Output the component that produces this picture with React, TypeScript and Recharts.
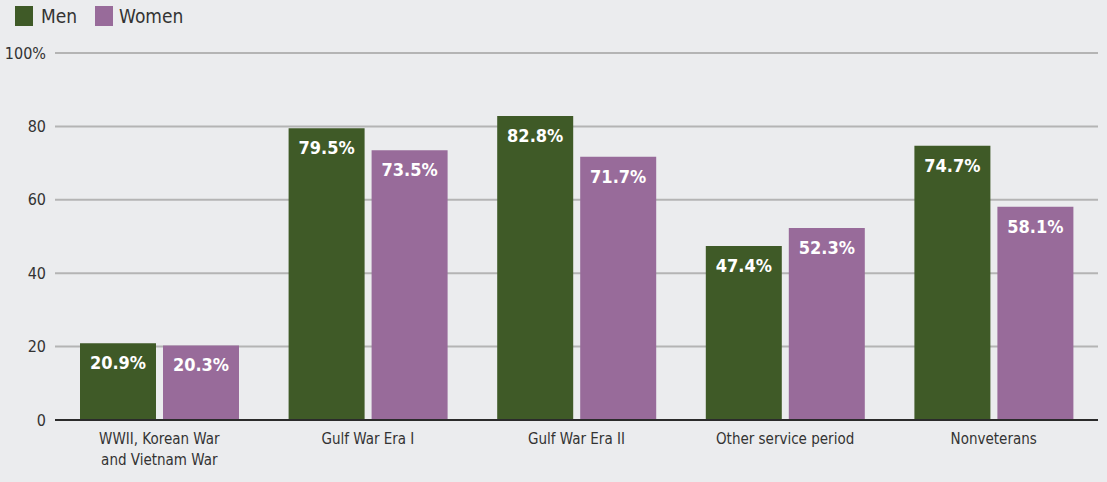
import React from "react";
import {
    BarChart,
    Bar,
    XAxis,
    YAxis,
    CartesianGrid,
    LabelList
} from "recharts";

const CATEGORIES = [
    "WWII, Korean War\nand Vietnam War",
    "Gulf War Era I",
    "Gulf War Era II",
    "Other service period",
    "Nonveterans"
];
const MEN = [20.9, 79.5, 82.8, 47.4, 74.7];
const WOMEN = [20.3, 73.5, 71.7, 52.3, 58.1];
const Y_TICKS = [0, 20, 40, 60, 80, 100];

const GREEN = "#3f5a27";
const PURPLE = "#986b9a";
const FONT = "'Liberation Sans Narrow', 'DejaVu Sans Condensed', 'Roboto', sans-serif";

const data = CATEGORIES.map((c, i) => ({ category: c, men: MEN[i], women: WOMEN[i] }));

const CategoryTick = ({ x, y, payload }: any) => {
    const lines = String(payload.value).split("\n");
    return (
        <text x={x} y={y} textAnchor="middle" fill="#333" fontSize={15} fontFamily={FONT}>
            {lines.map((l, i) => (
                <tspan key={i} x={x} dy={i === 0 ? 16 : 21}>{l}</tspan>
            ))}
        </text>
    );
};

const LegendBox = () => (
    <div
        style={{
            position: "absolute",
            top: 6,
            left: 0,
            display: "flex",
            alignItems: "center",
            fontFamily: FONT,
            fontSize: 19,
            color: "#333",
            lineHeight: "20px"
        }}
    >
        <div style={{ width: 18, height: 20, background: GREEN, marginLeft: 15, marginRight: 8 }} />
        <span>Men</span>
        <div style={{ width: 18, height: 20, background: PURPLE, marginLeft: 18, marginRight: 6 }} />
        <span>Women</span>
    </div>
);

const pct = (v: number) => `${v}%`;
const labelStyle = { fill: "#fff", fontSize: 18, fontWeight: 700, fontFamily: FONT };

export default function App() {
    return (
        <div style={{ position: "absolute", left: 0, top: 0, width: 1107, height: 482, background: "#ebecee" }}>
            <LegendBox />
            <BarChart
                width={1107}
                height={482}
                data={data}
                margin={{ top: 53, right: 9, left: 0, bottom: 0 }}
                barGap={7}
                barSize={76}
            >
                <CartesianGrid vertical={false} stroke="#b4b4b4" strokeWidth={2} />
                <XAxis
                    dataKey="category"
                    interval={0}
                    tickLine={false}
                    axisLine={{ stroke: "#2b2b2b", strokeWidth: 2 }}
                    tick={<CategoryTick />}
                    height={62}
                />
                <YAxis
                    domain={[0, 100]}
                    ticks={Y_TICKS}
                    axisLine={false}
                    tickLine={false}
                    tickSize={0}
                    tickMargin={9}
                    width={55}
                    tickFormatter={(v: number) => (v === 100 ? "100%" : String(v))}
                    tick={{ fill: "#333", fontSize: 16, fontFamily: FONT }}
                />
                <Bar dataKey="men" fill={GREEN} isAnimationActive={false}>
                    <LabelList dataKey="men" position="insideTop" offset={13} formatter={pct} style={labelStyle} />
                </Bar>
                <Bar dataKey="women" fill={PURPLE} isAnimationActive={false}>
                    <LabelList dataKey="women" position="insideTop" offset={13} formatter={pct} style={labelStyle} />
                </Bar>
            </BarChart>
        </div>
    );
}
